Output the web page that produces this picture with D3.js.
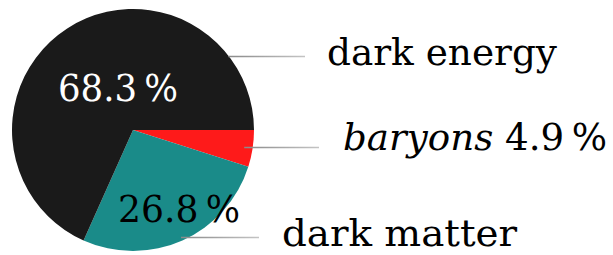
<!DOCTYPE html>
<html>
<head>
<meta charset="utf-8">
<script src="https://cdn.jsdelivr.net/npm/d3@7"></script>
<style>
  body { margin: 0; background: #fff; }
  svg text { font-family: "DejaVu Serif", "Liberation Serif", serif; }
</style>
</head>
<body>
<script>
(function () {

    //chart data
    var components = ["baryons", "dark matter", "dark energy"];
    var shares = [4.9, 26.8, 68.3];
    var sliceColors = ["#fe1a1a", "#1a8b89", "#1a1a1a"];

    var width = 613, height = 255;
    var cx = 133, cy = 130, radius = 121;
    var fontSize = 38;

    var svg = d3.select("body")
        .append("svg")
        .attr("width", width)
        .attr("height", height);

    //leader line gradient
    var grad = svg.append("defs").append("linearGradient")
        .attr("id", "leader");
    grad.append("stop").attr("offset", "0%").attr("stop-color", "#8a8a8a");
    grad.append("stop").attr("offset", "100%").attr("stop-color", "#c4c4c4");

    //slices start at 3 o'clock and run clockwise
    var pie = d3.pie()
        .sort(null)
        .value(function (d) { return d; })
        .startAngle(Math.PI / 2)
        .endAngle(Math.PI / 2 + 2 * Math.PI);

    var arcs = pie(shares);

    var arc = d3.arc().innerRadius(0).outerRadius(radius);

    var g = svg.append("g")
        .attr("transform", "translate(" + cx + "," + cy + ")");

    g.selectAll(".slice")
        .data(arcs)
        .enter()
        .append("path")
        .attr("class", "slice")
        .attr("d", arc)
        .style("fill", function (d, i) { return sliceColors[i]; });

    function fmt(v) { return v.toFixed(1) + "\u2009%"; }

    //leader lines: angle (d3 convention) where each line leaves the pie
    var leaderAngle = [
        (arcs[0].startAngle + arcs[0].endAngle) / 2,
        (arcs[1].startAngle + arcs[1].endAngle) / 2,
        Math.PI / 2 - 38 * Math.PI / 180
    ];
    var leaderR = [0.93, 0.97, 1.0];
    var leaderEnd = [319, 259, 305];

    leaderAngle.forEach(function (a, i) {
        var x0 = cx + Math.sin(a) * radius * leaderR[i];
        var y0 = Math.round(cy - Math.cos(a) * radius * leaderR[i]) + 0.5;
        svg.append("rect")
            .attr("x", x0)
            .attr("y", y0 - 0.75)
            .attr("width", leaderEnd[i] - x0)
            .attr("height", 1.5)
            .style("fill", "url(#leader)");
    });

    //helper: text squeezed to the width it has in the reference
    function label(x, y, w, fill) {
        return svg.append("text")
            .attr("x", x).attr("y", y)
            .attr("font-size", fontSize)
            .attr("textLength", w)
            .attr("lengthAdjust", "spacingAndGlyphs")
            .attr("fill", fill);
    }

    //outside labels
    label(327, 65, 230, "#000").text(components[2]);

    var bt = label(343, 150, 264, "#000");
    bt.append("tspan").attr("font-style", "italic").text(components[0]);
    bt.append("tspan").text(" " + fmt(shares[0]));

    label(282, 246, 235, "#000").text(components[1]);

    //inside labels
    label(58, 101, 120, "#fff").text(fmt(shares[2]));
    label(118, 222, 122, "#000").text(fmt(shares[1]));

})();
</script>
</body>
</html>
